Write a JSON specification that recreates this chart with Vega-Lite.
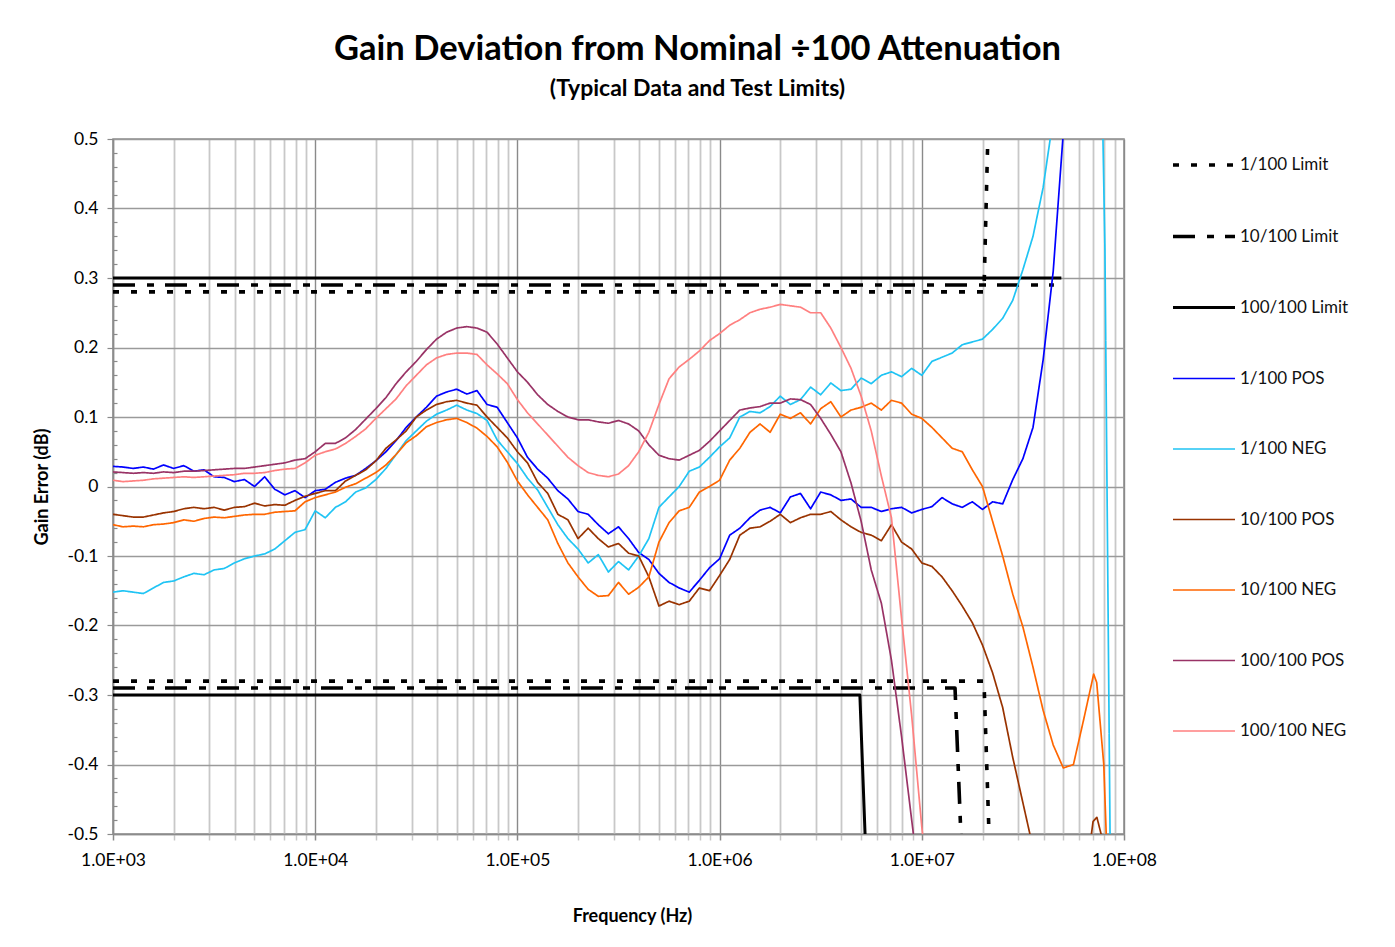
{
"$schema":"https://vega.github.io/schema/vega-lite/v6.json",
"width":1011,"height":695,
"autosize":{"type":"none"},
"padding":{"left":113,"top":139,"right":271,"bottom":113},
"background":"white",
"title":{"text":"Gain Deviation from Nominal ÷100 Attenuation","subtitle":"(Typical Data and Test Limits)","anchor":"middle","frame":"group","dx":79,"offset":28,"font":"Lato","fontSize":34.5,"fontWeight":"bold","color":"#000","subtitleFont":"Lato","subtitleFontSize":23,"subtitleFontWeight":"bold","subtitleColor":"#000","subtitlePadding":11},
"config":{"view":{"stroke":"#8c8c8c","strokeWidth":1.5},
"axis":{"labelFont":"Lato","labelFontSize":17.5,"labelColor":"#000","titleFont":"Lato","titleFontSize":18,"titleFontWeight":"bold","titleColor":"#000","domainColor":"#8c8c8c","domainWidth":1.5}},
"data":{"values":[
{"s":"1/100 Limit","g":"u","f":1e3,"v":0.28},{"s":"1/100 Limit","g":"u","f":2.03e7,"v":0.28},{"s":"1/100 Limit","g":"u","f":2.12e7,"v":0.5},
{"s":"1/100 Limit","g":"l","f":1e3,"v":-0.28},{"s":"1/100 Limit","g":"l","f":2.03e7,"v":-0.28},{"s":"1/100 Limit","g":"l","f":2.15e7,"v":-0.5},
{"s":"10/100 Limit","g":"u","f":1e3,"v":0.29},{"s":"10/100 Limit","g":"u","f":4.5e7,"v":0.29},
{"s":"10/100 Limit","g":"l","f":1e3,"v":-0.29},{"s":"10/100 Limit","g":"l","f":1.46e7,"v":-0.29},{"s":"10/100 Limit","g":"l","f":1.56e7,"v":-0.5},
{"s":"100/100 Limit","g":"u","f":1e3,"v":0.3},{"s":"100/100 Limit","g":"u","f":4.9e7,"v":0.3},
{"s":"100/100 Limit","g":"l","f":1e3,"v":-0.3},{"s":"100/100 Limit","g":"l","f":4.94e6,"v":-0.3},{"s":"100/100 Limit","g":"l","f":5.24e6,"v":-0.5},

{"s":"1/100 POS","f":1e3,"v":0.029},{"s":"1/100 POS","f":1.122e3,"v":0.028},{"s":"1/100 POS","f":1.259e3,"v":0.026},{"s":"1/100 POS","f":1.413e3,"v":0.028},{"s":"1/100 POS","f":1.585e3,"v":0.025},{"s":"1/100 POS","f":1.778e3,"v":0.031},{"s":"1/100 POS","f":1.995e3,"v":0.026},{"s":"1/100 POS","f":2.239e3,"v":0.03},{"s":"1/100 POS","f":2.512e3,"v":0.022},{"s":"1/100 POS","f":2.818e3,"v":0.024},
{"s":"1/100 POS","f":3.162e3,"v":0.014},{"s":"1/100 POS","f":3.548e3,"v":0.013},{"s":"1/100 POS","f":3.981e3,"v":0.007},{"s":"1/100 POS","f":4.467e3,"v":0.01},{"s":"1/100 POS","f":5.012e3,"v":0.0},{"s":"1/100 POS","f":5.623e3,"v":0.014},{"s":"1/100 POS","f":6.31e3,"v":-0.004},{"s":"1/100 POS","f":7.079e3,"v":-0.012},{"s":"1/100 POS","f":7.943e3,"v":-0.006},{"s":"1/100 POS","f":8.913e3,"v":-0.016},
{"s":"1/100 POS","f":1e4,"v":-0.006},{"s":"1/100 POS","f":1.122e4,"v":-0.004},{"s":"1/100 POS","f":1.259e4,"v":0.006},{"s":"1/100 POS","f":1.413e4,"v":0.012},{"s":"1/100 POS","f":1.585e4,"v":0.016},{"s":"1/100 POS","f":1.778e4,"v":0.026},{"s":"1/100 POS","f":1.995e4,"v":0.037},{"s":"1/100 POS","f":2.239e4,"v":0.05},{"s":"1/100 POS","f":2.512e4,"v":0.066},{"s":"1/100 POS","f":2.818e4,"v":0.085},
{"s":"1/100 POS","f":3.162e4,"v":0.1},{"s":"1/100 POS","f":3.548e4,"v":0.114},{"s":"1/100 POS","f":3.981e4,"v":0.13},{"s":"1/100 POS","f":4.467e4,"v":0.136},{"s":"1/100 POS","f":5.012e4,"v":0.14},{"s":"1/100 POS","f":5.623e4,"v":0.133},{"s":"1/100 POS","f":6.31e4,"v":0.138},{"s":"1/100 POS","f":7.079e4,"v":0.118},{"s":"1/100 POS","f":7.943e4,"v":0.114},{"s":"1/100 POS","f":8.913e4,"v":0.092},
{"s":"1/100 POS","f":1e5,"v":0.07},{"s":"1/100 POS","f":1.122e5,"v":0.042},{"s":"1/100 POS","f":1.259e5,"v":0.025},{"s":"1/100 POS","f":1.413e5,"v":0.012},{"s":"1/100 POS","f":1.585e5,"v":-0.006},{"s":"1/100 POS","f":1.778e5,"v":-0.018},{"s":"1/100 POS","f":1.995e5,"v":-0.036},{"s":"1/100 POS","f":2.239e5,"v":-0.04},{"s":"1/100 POS","f":2.512e5,"v":-0.055},{"s":"1/100 POS","f":2.818e5,"v":-0.068},
{"s":"1/100 POS","f":3.162e5,"v":-0.058},{"s":"1/100 POS","f":3.548e5,"v":-0.075},{"s":"1/100 POS","f":3.981e5,"v":-0.095},{"s":"1/100 POS","f":4.467e5,"v":-0.105},{"s":"1/100 POS","f":5.012e5,"v":-0.125},{"s":"1/100 POS","f":5.623e5,"v":-0.138},{"s":"1/100 POS","f":6.31e5,"v":-0.146},{"s":"1/100 POS","f":7.079e5,"v":-0.152},{"s":"1/100 POS","f":7.943e5,"v":-0.135},{"s":"1/100 POS","f":8.913e5,"v":-0.117},
{"s":"1/100 POS","f":1e6,"v":-0.104},{"s":"1/100 POS","f":1.122e6,"v":-0.07},{"s":"1/100 POS","f":1.259e6,"v":-0.06},{"s":"1/100 POS","f":1.413e6,"v":-0.045},{"s":"1/100 POS","f":1.585e6,"v":-0.034},{"s":"1/100 POS","f":1.778e6,"v":-0.03},{"s":"1/100 POS","f":1.995e6,"v":-0.038},{"s":"1/100 POS","f":2.239e6,"v":-0.015},{"s":"1/100 POS","f":2.512e6,"v":-0.01},{"s":"1/100 POS","f":2.818e6,"v":-0.032},
{"s":"1/100 POS","f":3.162e6,"v":-0.008},{"s":"1/100 POS","f":3.548e6,"v":-0.012},{"s":"1/100 POS","f":3.981e6,"v":-0.02},{"s":"1/100 POS","f":4.467e6,"v":-0.018},{"s":"1/100 POS","f":5.012e6,"v":-0.03},{"s":"1/100 POS","f":5.623e6,"v":-0.03},{"s":"1/100 POS","f":6.31e6,"v":-0.036},{"s":"1/100 POS","f":7.079e6,"v":-0.032},{"s":"1/100 POS","f":7.943e6,"v":-0.03},{"s":"1/100 POS","f":8.913e6,"v":-0.038},
{"s":"1/100 POS","f":1e7,"v":-0.033},{"s":"1/100 POS","f":1.122e7,"v":-0.029},{"s":"1/100 POS","f":1.259e7,"v":-0.016},{"s":"1/100 POS","f":1.413e7,"v":-0.025},{"s":"1/100 POS","f":1.585e7,"v":-0.03},{"s":"1/100 POS","f":1.778e7,"v":-0.022},{"s":"1/100 POS","f":1.995e7,"v":-0.033},{"s":"1/100 POS","f":2.239e7,"v":-0.022},{"s":"1/100 POS","f":2.512e7,"v":-0.025},{"s":"1/100 POS","f":2.818e7,"v":0.01},
{"s":"1/100 POS","f":3.162e7,"v":0.04},{"s":"1/100 POS","f":3.548e7,"v":0.085},{"s":"1/100 POS","f":3.981e7,"v":0.182},{"s":"1/100 POS","f":4.467e7,"v":0.31},{"s":"1/100 POS","f":5.012e7,"v":0.51},{"s":"1/100 POS","f":5.623e7,"v":0.8},

{"s":"1/100 NEG","f":1e3,"v":-0.152},{"s":"1/100 NEG","f":1.122e3,"v":-0.15},{"s":"1/100 NEG","f":1.259e3,"v":-0.152},{"s":"1/100 NEG","f":1.413e3,"v":-0.154},{"s":"1/100 NEG","f":1.585e3,"v":-0.146},{"s":"1/100 NEG","f":1.778e3,"v":-0.138},{"s":"1/100 NEG","f":1.995e3,"v":-0.136},{"s":"1/100 NEG","f":2.239e3,"v":-0.13},{"s":"1/100 NEG","f":2.512e3,"v":-0.125},{"s":"1/100 NEG","f":2.818e3,"v":-0.127},
{"s":"1/100 NEG","f":3.162e3,"v":-0.12},{"s":"1/100 NEG","f":3.548e3,"v":-0.118},{"s":"1/100 NEG","f":3.981e3,"v":-0.11},{"s":"1/100 NEG","f":4.467e3,"v":-0.104},{"s":"1/100 NEG","f":5.012e3,"v":-0.1},{"s":"1/100 NEG","f":5.623e3,"v":-0.097},{"s":"1/100 NEG","f":6.31e3,"v":-0.09},{"s":"1/100 NEG","f":7.079e3,"v":-0.078},{"s":"1/100 NEG","f":7.943e3,"v":-0.066},{"s":"1/100 NEG","f":8.913e3,"v":-0.062},
{"s":"1/100 NEG","f":1e4,"v":-0.035},{"s":"1/100 NEG","f":1.122e4,"v":-0.045},{"s":"1/100 NEG","f":1.259e4,"v":-0.03},{"s":"1/100 NEG","f":1.413e4,"v":-0.022},{"s":"1/100 NEG","f":1.585e4,"v":-0.008},{"s":"1/100 NEG","f":1.778e4,"v":-0.002},{"s":"1/100 NEG","f":1.995e4,"v":0.01},{"s":"1/100 NEG","f":2.239e4,"v":0.026},{"s":"1/100 NEG","f":2.512e4,"v":0.046},{"s":"1/100 NEG","f":2.818e4,"v":0.066},
{"s":"1/100 NEG","f":3.162e4,"v":0.08},{"s":"1/100 NEG","f":3.548e4,"v":0.094},{"s":"1/100 NEG","f":3.981e4,"v":0.104},{"s":"1/100 NEG","f":4.467e4,"v":0.11},{"s":"1/100 NEG","f":5.012e4,"v":0.117},{"s":"1/100 NEG","f":5.623e4,"v":0.11},{"s":"1/100 NEG","f":6.31e4,"v":0.105},{"s":"1/100 NEG","f":7.079e4,"v":0.095},{"s":"1/100 NEG","f":7.943e4,"v":0.067},{"s":"1/100 NEG","f":8.913e4,"v":0.05},
{"s":"1/100 NEG","f":1e5,"v":0.033},{"s":"1/100 NEG","f":1.122e5,"v":0.012},{"s":"1/100 NEG","f":1.259e5,"v":-0.005},{"s":"1/100 NEG","f":1.413e5,"v":-0.03},{"s":"1/100 NEG","f":1.585e5,"v":-0.055},{"s":"1/100 NEG","f":1.778e5,"v":-0.075},{"s":"1/100 NEG","f":1.995e5,"v":-0.09},{"s":"1/100 NEG","f":2.239e5,"v":-0.11},{"s":"1/100 NEG","f":2.512e5,"v":-0.098},{"s":"1/100 NEG","f":2.818e5,"v":-0.123},
{"s":"1/100 NEG","f":3.162e5,"v":-0.108},{"s":"1/100 NEG","f":3.548e5,"v":-0.12},{"s":"1/100 NEG","f":3.981e5,"v":-0.1},{"s":"1/100 NEG","f":4.467e5,"v":-0.075},{"s":"1/100 NEG","f":5.012e5,"v":-0.03},{"s":"1/100 NEG","f":5.623e5,"v":-0.015},{"s":"1/100 NEG","f":6.31e5,"v":0.0},{"s":"1/100 NEG","f":7.079e5,"v":0.022},{"s":"1/100 NEG","f":7.943e5,"v":0.028},{"s":"1/100 NEG","f":8.913e5,"v":0.042},
{"s":"1/100 NEG","f":1e6,"v":0.057},{"s":"1/100 NEG","f":1.122e6,"v":0.07},{"s":"1/100 NEG","f":1.259e6,"v":0.1},{"s":"1/100 NEG","f":1.413e6,"v":0.108},{"s":"1/100 NEG","f":1.585e6,"v":0.106},{"s":"1/100 NEG","f":1.778e6,"v":0.115},{"s":"1/100 NEG","f":1.995e6,"v":0.13},{"s":"1/100 NEG","f":2.239e6,"v":0.118},{"s":"1/100 NEG","f":2.512e6,"v":0.125},{"s":"1/100 NEG","f":2.818e6,"v":0.143},
{"s":"1/100 NEG","f":3.162e6,"v":0.132},{"s":"1/100 NEG","f":3.548e6,"v":0.149},{"s":"1/100 NEG","f":3.981e6,"v":0.138},{"s":"1/100 NEG","f":4.467e6,"v":0.14},{"s":"1/100 NEG","f":5.012e6,"v":0.156},{"s":"1/100 NEG","f":5.623e6,"v":0.148},{"s":"1/100 NEG","f":6.31e6,"v":0.16},{"s":"1/100 NEG","f":7.079e6,"v":0.165},{"s":"1/100 NEG","f":7.943e6,"v":0.158},{"s":"1/100 NEG","f":8.913e6,"v":0.17},
{"s":"1/100 NEG","f":1e7,"v":0.16},{"s":"1/100 NEG","f":1.122e7,"v":0.18},{"s":"1/100 NEG","f":1.259e7,"v":0.186},{"s":"1/100 NEG","f":1.413e7,"v":0.192},{"s":"1/100 NEG","f":1.585e7,"v":0.204},{"s":"1/100 NEG","f":1.778e7,"v":0.208},{"s":"1/100 NEG","f":1.995e7,"v":0.212},{"s":"1/100 NEG","f":2.239e7,"v":0.226},{"s":"1/100 NEG","f":2.512e7,"v":0.242},{"s":"1/100 NEG","f":2.818e7,"v":0.268},
{"s":"1/100 NEG","f":3.162e7,"v":0.312},{"s":"1/100 NEG","f":3.548e7,"v":0.36},{"s":"1/100 NEG","f":3.981e7,"v":0.43},{"s":"1/100 NEG","f":4.467e7,"v":0.53},{"s":"1/100 NEG","f":6.5e7,"v":1.5},{"s":"1/100 NEG","f":7.87e7,"v":0.5},{"s":"1/100 NEG","f":8.05e7,"v":0.34},{"s":"1/100 NEG","f":8.53e7,"v":-0.5},{"s":"1/100 NEG","f":8.7e7,"v":-0.8},

{"s":"10/100 POS","f":1e3,"v":-0.04},{"s":"10/100 POS","f":1.122e3,"v":-0.042},{"s":"10/100 POS","f":1.259e3,"v":-0.044},{"s":"10/100 POS","f":1.413e3,"v":-0.044},{"s":"10/100 POS","f":1.585e3,"v":-0.041},{"s":"10/100 POS","f":1.778e3,"v":-0.038},{"s":"10/100 POS","f":1.995e3,"v":-0.036},{"s":"10/100 POS","f":2.239e3,"v":-0.032},{"s":"10/100 POS","f":2.512e3,"v":-0.03},{"s":"10/100 POS","f":2.818e3,"v":-0.032},
{"s":"10/100 POS","f":3.162e3,"v":-0.03},{"s":"10/100 POS","f":3.548e3,"v":-0.034},{"s":"10/100 POS","f":3.981e3,"v":-0.03},{"s":"10/100 POS","f":4.467e3,"v":-0.029},{"s":"10/100 POS","f":5.012e3,"v":-0.024},{"s":"10/100 POS","f":5.623e3,"v":-0.028},{"s":"10/100 POS","f":6.31e3,"v":-0.026},{"s":"10/100 POS","f":7.079e3,"v":-0.027},{"s":"10/100 POS","f":7.943e3,"v":-0.02},{"s":"10/100 POS","f":8.913e3,"v":-0.014},
{"s":"10/100 POS","f":1e4,"v":-0.01},{"s":"10/100 POS","f":1.122e4,"v":-0.006},{"s":"10/100 POS","f":1.259e4,"v":-0.006},{"s":"10/100 POS","f":1.413e4,"v":0.008},{"s":"10/100 POS","f":1.585e4,"v":0.016},{"s":"10/100 POS","f":1.778e4,"v":0.024},{"s":"10/100 POS","f":1.995e4,"v":0.037},{"s":"10/100 POS","f":2.239e4,"v":0.055},{"s":"10/100 POS","f":2.512e4,"v":0.067},{"s":"10/100 POS","f":2.818e4,"v":0.08},
{"s":"10/100 POS","f":3.162e4,"v":0.1},{"s":"10/100 POS","f":3.548e4,"v":0.11},{"s":"10/100 POS","f":3.981e4,"v":0.118},{"s":"10/100 POS","f":4.467e4,"v":0.122},{"s":"10/100 POS","f":5.012e4,"v":0.124},{"s":"10/100 POS","f":5.623e4,"v":0.12},{"s":"10/100 POS","f":6.31e4,"v":0.117},{"s":"10/100 POS","f":7.079e4,"v":0.1},{"s":"10/100 POS","f":7.943e4,"v":0.085},{"s":"10/100 POS","f":8.913e4,"v":0.07},
{"s":"10/100 POS","f":1e5,"v":0.05},{"s":"10/100 POS","f":1.122e5,"v":0.034},{"s":"10/100 POS","f":1.259e5,"v":0.006},{"s":"10/100 POS","f":1.413e5,"v":-0.01},{"s":"10/100 POS","f":1.585e5,"v":-0.04},{"s":"10/100 POS","f":1.778e5,"v":-0.048},{"s":"10/100 POS","f":1.995e5,"v":-0.075},{"s":"10/100 POS","f":2.239e5,"v":-0.06},{"s":"10/100 POS","f":2.512e5,"v":-0.075},{"s":"10/100 POS","f":2.818e5,"v":-0.087},
{"s":"10/100 POS","f":3.162e5,"v":-0.082},{"s":"10/100 POS","f":3.548e5,"v":-0.096},{"s":"10/100 POS","f":3.981e5,"v":-0.1},{"s":"10/100 POS","f":4.467e5,"v":-0.13},{"s":"10/100 POS","f":5.012e5,"v":-0.172},{"s":"10/100 POS","f":5.623e5,"v":-0.165},{"s":"10/100 POS","f":6.31e5,"v":-0.17},{"s":"10/100 POS","f":7.079e5,"v":-0.165},{"s":"10/100 POS","f":7.943e5,"v":-0.146},{"s":"10/100 POS","f":8.913e5,"v":-0.15},
{"s":"10/100 POS","f":1e6,"v":-0.128},{"s":"10/100 POS","f":1.122e6,"v":-0.105},{"s":"10/100 POS","f":1.259e6,"v":-0.07},{"s":"10/100 POS","f":1.413e6,"v":-0.06},{"s":"10/100 POS","f":1.585e6,"v":-0.058},{"s":"10/100 POS","f":1.778e6,"v":-0.05},{"s":"10/100 POS","f":1.995e6,"v":-0.04},{"s":"10/100 POS","f":2.239e6,"v":-0.052},{"s":"10/100 POS","f":2.512e6,"v":-0.045},{"s":"10/100 POS","f":2.818e6,"v":-0.04},
{"s":"10/100 POS","f":3.162e6,"v":-0.04},{"s":"10/100 POS","f":3.548e6,"v":-0.036},{"s":"10/100 POS","f":3.981e6,"v":-0.048},{"s":"10/100 POS","f":4.467e6,"v":-0.058},{"s":"10/100 POS","f":5.012e6,"v":-0.066},{"s":"10/100 POS","f":5.623e6,"v":-0.07},{"s":"10/100 POS","f":6.31e6,"v":-0.078},{"s":"10/100 POS","f":7.079e6,"v":-0.055},{"s":"10/100 POS","f":7.943e6,"v":-0.08},{"s":"10/100 POS","f":8.913e6,"v":-0.09},
{"s":"10/100 POS","f":1e7,"v":-0.11},{"s":"10/100 POS","f":1.122e7,"v":-0.115},{"s":"10/100 POS","f":1.259e7,"v":-0.13},{"s":"10/100 POS","f":1.413e7,"v":-0.15},{"s":"10/100 POS","f":1.585e7,"v":-0.172},{"s":"10/100 POS","f":1.778e7,"v":-0.196},{"s":"10/100 POS","f":1.995e7,"v":-0.228},{"s":"10/100 POS","f":2.239e7,"v":-0.268},{"s":"10/100 POS","f":2.512e7,"v":-0.318},{"s":"10/100 POS","f":2.818e7,"v":-0.39},
{"s":"10/100 POS","f":3.162e7,"v":-0.455},{"s":"10/100 POS","f":3.548e7,"v":-0.52},{"s":"10/100 POS","f":3.981e7,"v":-0.56},{"s":"10/100 POS","f":4.467e7,"v":-0.6},{"s":"10/100 POS","f":6.31e7,"v":-0.6},{"s":"10/100 POS","f":6.761e7,"v":-0.52},{"s":"10/100 POS","f":7.031e7,"v":-0.482},{"s":"10/100 POS","f":7.345e7,"v":-0.476},{"s":"10/100 POS","f":7.78e7,"v":-0.505},{"s":"10/100 POS","f":8.128e7,"v":-0.6},

{"s":"10/100 NEG","f":1e3,"v":-0.055},{"s":"10/100 NEG","f":1.122e3,"v":-0.058},{"s":"10/100 NEG","f":1.259e3,"v":-0.057},{"s":"10/100 NEG","f":1.413e3,"v":-0.058},{"s":"10/100 NEG","f":1.585e3,"v":-0.055},{"s":"10/100 NEG","f":1.778e3,"v":-0.054},{"s":"10/100 NEG","f":1.995e3,"v":-0.052},{"s":"10/100 NEG","f":2.239e3,"v":-0.048},{"s":"10/100 NEG","f":2.512e3,"v":-0.05},{"s":"10/100 NEG","f":2.818e3,"v":-0.046},
{"s":"10/100 NEG","f":3.162e3,"v":-0.044},{"s":"10/100 NEG","f":3.548e3,"v":-0.045},{"s":"10/100 NEG","f":3.981e3,"v":-0.043},{"s":"10/100 NEG","f":4.467e3,"v":-0.041},{"s":"10/100 NEG","f":5.012e3,"v":-0.04},{"s":"10/100 NEG","f":5.623e3,"v":-0.04},{"s":"10/100 NEG","f":6.31e3,"v":-0.037},{"s":"10/100 NEG","f":7.079e3,"v":-0.036},{"s":"10/100 NEG","f":7.943e3,"v":-0.035},{"s":"10/100 NEG","f":8.913e3,"v":-0.022},
{"s":"10/100 NEG","f":1e4,"v":-0.016},{"s":"10/100 NEG","f":1.122e4,"v":-0.012},{"s":"10/100 NEG","f":1.259e4,"v":-0.008},{"s":"10/100 NEG","f":1.413e4,"v":-0.001},{"s":"10/100 NEG","f":1.585e4,"v":0.004},{"s":"10/100 NEG","f":1.778e4,"v":0.012},{"s":"10/100 NEG","f":1.995e4,"v":0.02},{"s":"10/100 NEG","f":2.239e4,"v":0.031},{"s":"10/100 NEG","f":2.512e4,"v":0.046},{"s":"10/100 NEG","f":2.818e4,"v":0.063},
{"s":"10/100 NEG","f":3.162e4,"v":0.073},{"s":"10/100 NEG","f":3.548e4,"v":0.086},{"s":"10/100 NEG","f":3.981e4,"v":0.092},{"s":"10/100 NEG","f":4.467e4,"v":0.096},{"s":"10/100 NEG","f":5.012e4,"v":0.098},{"s":"10/100 NEG","f":5.623e4,"v":0.092},{"s":"10/100 NEG","f":6.31e4,"v":0.084},{"s":"10/100 NEG","f":7.079e4,"v":0.072},{"s":"10/100 NEG","f":7.943e4,"v":0.057},{"s":"10/100 NEG","f":8.913e4,"v":0.035},
{"s":"10/100 NEG","f":1e5,"v":0.008},{"s":"10/100 NEG","f":1.122e5,"v":-0.012},{"s":"10/100 NEG","f":1.259e5,"v":-0.03},{"s":"10/100 NEG","f":1.413e5,"v":-0.048},{"s":"10/100 NEG","f":1.585e5,"v":-0.082},{"s":"10/100 NEG","f":1.778e5,"v":-0.11},{"s":"10/100 NEG","f":1.995e5,"v":-0.13},{"s":"10/100 NEG","f":2.239e5,"v":-0.148},{"s":"10/100 NEG","f":2.512e5,"v":-0.158},{"s":"10/100 NEG","f":2.818e5,"v":-0.157},
{"s":"10/100 NEG","f":3.162e5,"v":-0.138},{"s":"10/100 NEG","f":3.548e5,"v":-0.155},{"s":"10/100 NEG","f":3.981e5,"v":-0.145},{"s":"10/100 NEG","f":4.467e5,"v":-0.13},{"s":"10/100 NEG","f":5.012e5,"v":-0.08},{"s":"10/100 NEG","f":5.623e5,"v":-0.052},{"s":"10/100 NEG","f":6.31e5,"v":-0.035},{"s":"10/100 NEG","f":7.079e5,"v":-0.03},{"s":"10/100 NEG","f":7.943e5,"v":-0.008},{"s":"10/100 NEG","f":8.913e5,"v":0.0},
{"s":"10/100 NEG","f":1e6,"v":0.009},{"s":"10/100 NEG","f":1.122e6,"v":0.038},{"s":"10/100 NEG","f":1.259e6,"v":0.055},{"s":"10/100 NEG","f":1.413e6,"v":0.078},{"s":"10/100 NEG","f":1.585e6,"v":0.09},{"s":"10/100 NEG","f":1.778e6,"v":0.078},{"s":"10/100 NEG","f":1.995e6,"v":0.104},{"s":"10/100 NEG","f":2.239e6,"v":0.098},{"s":"10/100 NEG","f":2.512e6,"v":0.106},{"s":"10/100 NEG","f":2.818e6,"v":0.09},
{"s":"10/100 NEG","f":3.162e6,"v":0.112},{"s":"10/100 NEG","f":3.548e6,"v":0.122},{"s":"10/100 NEG","f":3.981e6,"v":0.1},{"s":"10/100 NEG","f":4.467e6,"v":0.11},{"s":"10/100 NEG","f":5.012e6,"v":0.114},{"s":"10/100 NEG","f":5.623e6,"v":0.12},{"s":"10/100 NEG","f":6.31e6,"v":0.11},{"s":"10/100 NEG","f":7.079e6,"v":0.124},{"s":"10/100 NEG","f":7.943e6,"v":0.12},{"s":"10/100 NEG","f":8.913e6,"v":0.104},
{"s":"10/100 NEG","f":1e7,"v":0.098},{"s":"10/100 NEG","f":1.122e7,"v":0.085},{"s":"10/100 NEG","f":1.259e7,"v":0.07},{"s":"10/100 NEG","f":1.413e7,"v":0.055},{"s":"10/100 NEG","f":1.585e7,"v":0.05},{"s":"10/100 NEG","f":1.778e7,"v":0.024},{"s":"10/100 NEG","f":1.995e7,"v":0.0},{"s":"10/100 NEG","f":2.239e7,"v":-0.05},{"s":"10/100 NEG","f":2.512e7,"v":-0.1},{"s":"10/100 NEG","f":2.818e7,"v":-0.155},
{"s":"10/100 NEG","f":3.162e7,"v":-0.202},{"s":"10/100 NEG","f":3.548e7,"v":-0.26},{"s":"10/100 NEG","f":3.981e7,"v":-0.322},{"s":"10/100 NEG","f":4.467e7,"v":-0.372},{"s":"10/100 NEG","f":5.012e7,"v":-0.405},{"s":"10/100 NEG","f":5.623e7,"v":-0.4},{"s":"10/100 NEG","f":6.31e7,"v":-0.336},{"s":"10/100 NEG","f":7.079e7,"v":-0.27},{"s":"10/100 NEG","f":7.328e7,"v":-0.282},{"s":"10/100 NEG","f":7.943e7,"v":-0.4},{"s":"10/100 NEG","f":8.166e7,"v":-0.5},{"s":"10/100 NEG","f":8.511e7,"v":-0.7},

{"s":"100/100 POS","f":1e3,"v":0.021},{"s":"100/100 POS","f":1.122e3,"v":0.02},{"s":"100/100 POS","f":1.259e3,"v":0.019},{"s":"100/100 POS","f":1.413e3,"v":0.02},{"s":"100/100 POS","f":1.585e3,"v":0.019},{"s":"100/100 POS","f":1.778e3,"v":0.021},{"s":"100/100 POS","f":1.995e3,"v":0.02},{"s":"100/100 POS","f":2.239e3,"v":0.022},{"s":"100/100 POS","f":2.512e3,"v":0.022},{"s":"100/100 POS","f":2.818e3,"v":0.023},
{"s":"100/100 POS","f":3.162e3,"v":0.024},{"s":"100/100 POS","f":3.548e3,"v":0.025},{"s":"100/100 POS","f":3.981e3,"v":0.026},{"s":"100/100 POS","f":4.467e3,"v":0.026},{"s":"100/100 POS","f":5.012e3,"v":0.028},{"s":"100/100 POS","f":5.623e3,"v":0.03},{"s":"100/100 POS","f":6.31e3,"v":0.032},{"s":"100/100 POS","f":7.079e3,"v":0.034},{"s":"100/100 POS","f":7.943e3,"v":0.038},{"s":"100/100 POS","f":8.913e3,"v":0.04},
{"s":"100/100 POS","f":1e4,"v":0.05},{"s":"100/100 POS","f":1.122e4,"v":0.062},{"s":"100/100 POS","f":1.259e4,"v":0.062},{"s":"100/100 POS","f":1.413e4,"v":0.07},{"s":"100/100 POS","f":1.585e4,"v":0.082},{"s":"100/100 POS","f":1.778e4,"v":0.097},{"s":"100/100 POS","f":1.995e4,"v":0.112},{"s":"100/100 POS","f":2.239e4,"v":0.128},{"s":"100/100 POS","f":2.512e4,"v":0.148},{"s":"100/100 POS","f":2.818e4,"v":0.165},
{"s":"100/100 POS","f":3.162e4,"v":0.18},{"s":"100/100 POS","f":3.548e4,"v":0.197},{"s":"100/100 POS","f":3.981e4,"v":0.212},{"s":"100/100 POS","f":4.467e4,"v":0.222},{"s":"100/100 POS","f":5.012e4,"v":0.228},{"s":"100/100 POS","f":5.623e4,"v":0.23},{"s":"100/100 POS","f":6.31e4,"v":0.228},{"s":"100/100 POS","f":7.079e4,"v":0.222},{"s":"100/100 POS","f":7.943e4,"v":0.205},{"s":"100/100 POS","f":8.913e4,"v":0.185},
{"s":"100/100 POS","f":1e5,"v":0.165},{"s":"100/100 POS","f":1.122e5,"v":0.15},{"s":"100/100 POS","f":1.259e5,"v":0.132},{"s":"100/100 POS","f":1.413e5,"v":0.118},{"s":"100/100 POS","f":1.585e5,"v":0.108},{"s":"100/100 POS","f":1.778e5,"v":0.1},{"s":"100/100 POS","f":1.995e5,"v":0.096},{"s":"100/100 POS","f":2.239e5,"v":0.096},{"s":"100/100 POS","f":2.512e5,"v":0.093},{"s":"100/100 POS","f":2.818e5,"v":0.091},
{"s":"100/100 POS","f":3.162e5,"v":0.095},{"s":"100/100 POS","f":3.548e5,"v":0.09},{"s":"100/100 POS","f":3.981e5,"v":0.08},{"s":"100/100 POS","f":4.467e5,"v":0.06},{"s":"100/100 POS","f":5.012e5,"v":0.045},{"s":"100/100 POS","f":5.623e5,"v":0.04},{"s":"100/100 POS","f":6.31e5,"v":0.038},{"s":"100/100 POS","f":7.079e5,"v":0.045},{"s":"100/100 POS","f":7.943e5,"v":0.052},{"s":"100/100 POS","f":8.913e5,"v":0.065},
{"s":"100/100 POS","f":1e6,"v":0.08},{"s":"100/100 POS","f":1.122e6,"v":0.095},{"s":"100/100 POS","f":1.259e6,"v":0.11},{"s":"100/100 POS","f":1.413e6,"v":0.113},{"s":"100/100 POS","f":1.585e6,"v":0.115},{"s":"100/100 POS","f":1.778e6,"v":0.12},{"s":"100/100 POS","f":1.995e6,"v":0.12},{"s":"100/100 POS","f":2.239e6,"v":0.126},{"s":"100/100 POS","f":2.512e6,"v":0.125},{"s":"100/100 POS","f":2.818e6,"v":0.118},
{"s":"100/100 POS","f":3.162e6,"v":0.098},{"s":"100/100 POS","f":3.548e6,"v":0.075},{"s":"100/100 POS","f":3.981e6,"v":0.05},{"s":"100/100 POS","f":4.467e6,"v":0.005},{"s":"100/100 POS","f":5.012e6,"v":-0.05},{"s":"100/100 POS","f":5.623e6,"v":-0.12},{"s":"100/100 POS","f":6.31e6,"v":-0.168},{"s":"100/100 POS","f":7.079e6,"v":-0.25},{"s":"100/100 POS","f":7.943e6,"v":-0.36},{"s":"100/100 POS","f":8.913e6,"v":-0.48},{"s":"100/100 POS","f":1e7,"v":-0.6},

{"s":"100/100 NEG","f":1e3,"v":0.009},{"s":"100/100 NEG","f":1.122e3,"v":0.007},{"s":"100/100 NEG","f":1.259e3,"v":0.008},{"s":"100/100 NEG","f":1.413e3,"v":0.009},{"s":"100/100 NEG","f":1.585e3,"v":0.011},{"s":"100/100 NEG","f":1.778e3,"v":0.012},{"s":"100/100 NEG","f":1.995e3,"v":0.013},{"s":"100/100 NEG","f":2.239e3,"v":0.014},{"s":"100/100 NEG","f":2.512e3,"v":0.013},{"s":"100/100 NEG","f":2.818e3,"v":0.014},
{"s":"100/100 NEG","f":3.162e3,"v":0.015},{"s":"100/100 NEG","f":3.548e3,"v":0.016},{"s":"100/100 NEG","f":3.981e3,"v":0.017},{"s":"100/100 NEG","f":4.467e3,"v":0.019},{"s":"100/100 NEG","f":5.012e3,"v":0.019},{"s":"100/100 NEG","f":5.623e3,"v":0.02},{"s":"100/100 NEG","f":6.31e3,"v":0.023},{"s":"100/100 NEG","f":7.079e3,"v":0.025},{"s":"100/100 NEG","f":7.943e3,"v":0.026},{"s":"100/100 NEG","f":8.913e3,"v":0.034},
{"s":"100/100 NEG","f":1e4,"v":0.045},{"s":"100/100 NEG","f":1.122e4,"v":0.05},{"s":"100/100 NEG","f":1.259e4,"v":0.054},{"s":"100/100 NEG","f":1.413e4,"v":0.062},{"s":"100/100 NEG","f":1.585e4,"v":0.072},{"s":"100/100 NEG","f":1.778e4,"v":0.083},{"s":"100/100 NEG","f":1.995e4,"v":0.098},{"s":"100/100 NEG","f":2.239e4,"v":0.112},{"s":"100/100 NEG","f":2.512e4,"v":0.126},{"s":"100/100 NEG","f":2.818e4,"v":0.145},
{"s":"100/100 NEG","f":3.162e4,"v":0.16},{"s":"100/100 NEG","f":3.548e4,"v":0.175},{"s":"100/100 NEG","f":3.981e4,"v":0.185},{"s":"100/100 NEG","f":4.467e4,"v":0.19},{"s":"100/100 NEG","f":5.012e4,"v":0.192},{"s":"100/100 NEG","f":5.623e4,"v":0.192},{"s":"100/100 NEG","f":6.31e4,"v":0.19},{"s":"100/100 NEG","f":7.079e4,"v":0.175},{"s":"100/100 NEG","f":7.943e4,"v":0.162},{"s":"100/100 NEG","f":8.913e4,"v":0.148},
{"s":"100/100 NEG","f":1e5,"v":0.125},{"s":"100/100 NEG","f":1.122e5,"v":0.106},{"s":"100/100 NEG","f":1.259e5,"v":0.09},{"s":"100/100 NEG","f":1.413e5,"v":0.074},{"s":"100/100 NEG","f":1.585e5,"v":0.058},{"s":"100/100 NEG","f":1.778e5,"v":0.042},{"s":"100/100 NEG","f":1.995e5,"v":0.03},{"s":"100/100 NEG","f":2.239e5,"v":0.02},{"s":"100/100 NEG","f":2.512e5,"v":0.016},{"s":"100/100 NEG","f":2.818e5,"v":0.014},
{"s":"100/100 NEG","f":3.162e5,"v":0.018},{"s":"100/100 NEG","f":3.548e5,"v":0.03},{"s":"100/100 NEG","f":3.981e5,"v":0.05},{"s":"100/100 NEG","f":4.467e5,"v":0.078},{"s":"100/100 NEG","f":5.012e5,"v":0.118},{"s":"100/100 NEG","f":5.623e5,"v":0.155},{"s":"100/100 NEG","f":6.31e5,"v":0.172},{"s":"100/100 NEG","f":7.079e5,"v":0.183},{"s":"100/100 NEG","f":7.943e5,"v":0.195},{"s":"100/100 NEG","f":8.913e5,"v":0.21},
{"s":"100/100 NEG","f":1e6,"v":0.22},{"s":"100/100 NEG","f":1.122e6,"v":0.232},{"s":"100/100 NEG","f":1.259e6,"v":0.24},{"s":"100/100 NEG","f":1.413e6,"v":0.25},{"s":"100/100 NEG","f":1.585e6,"v":0.255},{"s":"100/100 NEG","f":1.778e6,"v":0.258},{"s":"100/100 NEG","f":1.995e6,"v":0.262},{"s":"100/100 NEG","f":2.239e6,"v":0.26},{"s":"100/100 NEG","f":2.512e6,"v":0.258},{"s":"100/100 NEG","f":2.818e6,"v":0.25},
{"s":"100/100 NEG","f":3.162e6,"v":0.25},{"s":"100/100 NEG","f":3.548e6,"v":0.228},{"s":"100/100 NEG","f":3.981e6,"v":0.2},{"s":"100/100 NEG","f":4.467e6,"v":0.17},{"s":"100/100 NEG","f":5.012e6,"v":0.13},{"s":"100/100 NEG","f":5.623e6,"v":0.08},{"s":"100/100 NEG","f":6.31e6,"v":0.015},{"s":"100/100 NEG","f":7.079e6,"v":-0.045},{"s":"100/100 NEG","f":7.943e6,"v":-0.19},{"s":"100/100 NEG","f":8.913e6,"v":-0.33},{"s":"100/100 NEG","f":1e7,"v":-0.49},{"s":"100/100 NEG","f":1.122e7,"v":-0.62}
]},
"mark":{"type":"line","clip":true,"strokeCap":"butt","strokeJoin":"round"},
"encoding":{
"x":{"field":"f","type":"quantitative","scale":{"type":"log","domain":[1000,100000000],"nice":false},
"axis":{"title":"Frequency (Hz)","titlePadding":39,"titleX":519,"values":[1000,2000,3000,4000,5000,6000,7000,8000,9000,10000,20000,30000,40000,50000,60000,70000,80000,90000,100000,200000,300000,400000,500000,600000,700000,800000,900000,1000000,2000000,3000000,4000000,5000000,6000000,7000000,8000000,9000000,10000000,20000000,30000000,40000000,50000000,60000000,70000000,80000000,90000000,100000000],
"labelExpr":"abs(log(datum.value)/LN10-round(log(datum.value)/LN10))<0.01 ? '1.0E+0'+round(log(datum.value)/LN10) : ''",
"labelOverlap":false,"labelBound":false,"labelFlush":false,"labelPadding":11,"tickSize":6,
"gridColor":{"condition":{"test":"abs(log(datum.value)/LN10-round(log(datum.value)/LN10))<0.01","value":"#8a8a8a"},"value":"#c8c8c8"},
"gridWidth":{"condition":{"test":"abs(log(datum.value)/LN10-round(log(datum.value)/LN10))<0.01","value":1.4},"value":1.8},
"tickColor":{"condition":{"test":"abs(log(datum.value)/LN10-round(log(datum.value)/LN10))<0.01","value":"#8a8a8a"},"value":"#c8c8c8"},
"tickWidth":1.5}},
"y":{"field":"v","type":"quantitative","scale":{"domain":[-0.5,0.5],"nice":false,"zero":false},
"axis":{"title":"Gain Error (dB)","titlePadding":16,"values":[-0.5,-0.48,-0.46,-0.44,-0.42,-0.4,-0.38,-0.36,-0.34,-0.32,-0.3,-0.28,-0.26,-0.24,-0.22,-0.2,-0.18,-0.16,-0.14,-0.12,-0.1,-0.08,-0.06,-0.04,-0.02,0,0.02,0.04,0.06,0.08,0.1,0.12,0.14,0.16,0.18,0.2,0.22,0.24,0.26,0.28,0.3,0.32,0.34,0.36,0.38,0.4,0.42,0.44,0.46,0.48,0.5],
"labelExpr":"abs(datum.value*10-round(datum.value*10))<0.001 ? (abs(datum.value)<0.001 ? '0' : (datum.value<0 ? '-' : '') + format(abs(datum.value),'.1f')) : ''",
"labelOverlap":false,"labelBound":false,"labelFlush":false,"labelPadding":9,
"gridColor":"#9a9a9a","gridWidth":1.5,
"gridOpacity":{"condition":{"test":"abs(datum.value*10-round(datum.value*10))<0.001","value":1},"value":0},
"tickSize":{"condition":{"test":"abs(datum.value*10-round(datum.value*10))<0.001","value":6},"value":-4},
"tickColor":"#8a8a8a","tickWidth":1.2}},
"color":{"field":"s","type":"nominal","scale":{"domain":["1/100 Limit","10/100 Limit","100/100 Limit","1/100 POS","1/100 NEG","10/100 POS","10/100 NEG","100/100 POS","100/100 NEG"],"range":["#000000","#000000","#000000","#0000FF","#20C4F4","#993300","#FF6600","#993366","#FF8080"]},
"legend":{"orient":"none","legendX":1058,"legendY":-7,"title":null,"symbolType":"stroke","symbolSize":3844,"rowPadding":30.5,"labelFont":"Lato","labelFontSize":17,"labelColor":"#111","labelOffset":3,"padding":0,"symbolOpacity":1}},
"strokeDash":{"field":"s","type":"nominal","scale":{"domain":["1/100 Limit","10/100 Limit","100/100 Limit","1/100 POS","1/100 NEG","10/100 POS","10/100 NEG","100/100 POS","100/100 NEG"],"range":[[6,12],[22,12,7,11],[1,0],[1,0],[1,0],[1,0],[1,0],[1,0],[1,0]]},
"legend":{"orient":"none","legendX":1058,"legendY":-7,"title":null,"symbolType":"stroke","symbolSize":3844,"rowPadding":30.5,"labelFont":"Lato","labelFontSize":17,"labelColor":"#111","labelOffset":3,"padding":0,"symbolOpacity":1}},
"strokeWidth":{"field":"s","type":"nominal","scale":{"type":"ordinal","domain":["1/100 Limit","10/100 Limit","100/100 Limit","1/100 POS","1/100 NEG","10/100 POS","10/100 NEG","100/100 POS","100/100 NEG"],"range":[3.6,3.6,3,1.7,1.7,1.7,1.7,1.7,1.7]},
"legend":{"orient":"none","legendX":1058,"legendY":-7,"title":null,"symbolType":"stroke","symbolSize":3844,"rowPadding":30.5,"labelFont":"Lato","labelFontSize":17,"labelColor":"#111","labelOffset":3,"padding":0,"symbolOpacity":1}},
"detail":{"field":"g","type":"nominal"}
}
}
